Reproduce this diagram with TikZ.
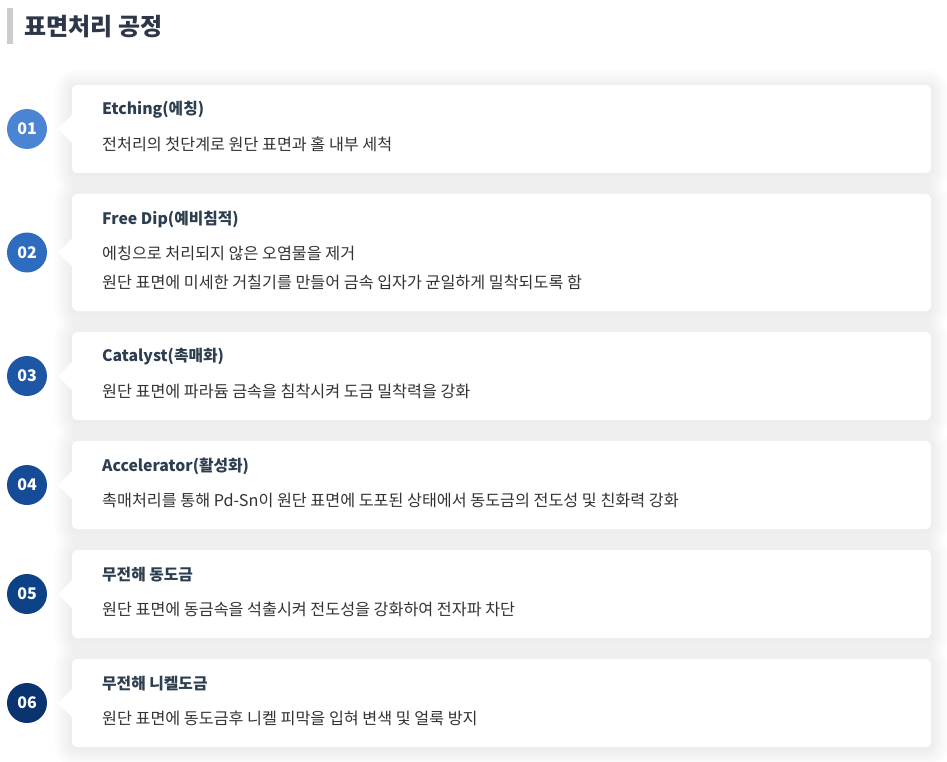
\documentclass[tikz,border=0pt]{standalone}
\usepackage{fontspec}
\setmainfont{Noto Sans CJK KR}
\definecolor{c1}{HTML}{4A84D2}
\definecolor{c2}{HTML}{2E6CC0}
\definecolor{c3}{HTML}{1E56A6}
\definecolor{c4}{HTML}{164B98}
\definecolor{c5}{HTML}{0E4286}
\definecolor{c6}{HTML}{0A3470}
\definecolor{headc}{HTML}{2D3748}
\definecolor{titc}{HTML}{2C3E50}
\definecolor{bodyc}{HTML}{333333}
\definecolor{barc}{HTML}{CCCCCC}
\tikzset{
  shadowlayer/.style={fill=black, fill opacity=0.0042},
  cardfill/.style={fill=white},
  numcirc/.style={circle, minimum size=40pt, inner sep=0pt, text=white, font=\fontsize{16}{18}\selectfont\bfseries},
  cardtitle/.style={anchor=west, inner sep=0pt, text=titc, font=\fontsize{15.8}{18}\selectfont\bfseries},
  cardbody/.style={anchor=west, inner sep=0pt, text=bodyc, font=\fontsize{16.2}{18}\selectfont},
}
\newcommand{\mycard}[5]{% top, bottom, center, number, color
  \foreach \s in {1,...,18}{
    \fill[shadowlayer, rounded corners=\s pt+4pt] (72-\s,#1-\s+2) rectangle (931+\s,#2+\s+2);
  }
  \path[cardfill] [rounded corners=5pt] (72,#1) -- (931,#1) -- (931,#2) -- (72,#2) [sharp corners] -- (72,#3+14) -- (58,#3) -- (72,#3-14) [rounded corners=5pt] -- cycle;
  \node[numcirc, fill=#5] (n#4) at (27,#3) {0#4};
}
\begin{document}
\begin{tikzpicture}[x=1pt,y=-1pt]
\useasboundingbox[fill=white] (0,0) rectangle (947,762);
\fill[barc] (7,8) rectangle (13,44);
\node[anchor=west, inner sep=0pt, text=headc, font=\fontsize{24}{28}\selectfont\bfseries] (head) at (24,27) {표면처리 공정};

\mycard{85}{173}{129}{1}{c1}
\mycard{194}{311}{252.5}{2}{c2}
\mycard{332}{420}{376}{3}{c3}
\mycard{441}{529}{485}{4}{c4}
\mycard{550}{638}{594}{5}{c5}
\mycard{659}{747}{703}{6}{c6}

\node[cardtitle] (t1) at (102,110) {Etching(에칭)};
\node[cardbody] (b1) at (102,144) {전처리의 첫단계로 원단 표면과 홀 내부 세척};

\node[cardtitle] (t2) at (102,219) {Free Dip(예비침적)};
\node[cardbody] (b2a) at (102,253) {에칭으로 처리되지 않은 오염물을 제거};
\node[cardbody] (b2b) at (102,282) {원단 표면에 미세한 거칠기를 만들어 금속 입자가 균일하게 밀착되도록 함};

\node[cardtitle] (t3) at (102,357) {Catalyst(촉매화)};
\node[cardbody] (b3) at (102,391) {원단 표면에 파라듐 금속을 침착시켜 도금 밀착력을 강화};

\node[cardtitle] (t4) at (102,466) {Accelerator(활성화)};
\node[cardbody] (b4) at (102,500) {촉매처리를 통해 Pd-Sn이 원단 표면에 도포된 상태에서 동도금의 전도성 및 친화력 강화};

\node[cardtitle] (t5) at (102,575) {무전해 동도금};
\node[cardbody] (b5) at (102,609) {원단 표면에 동금속을 석출시켜 전도성을 강화하여 전자파 차단};

\node[cardtitle] (t6) at (102,684) {무전해 니켈도금};
\node[cardbody] (b6) at (102,718) {원단 표면에 동도금후 니켈 피막을 입혀 변색 및 얼룩 방지};
\end{tikzpicture}
\end{document}
